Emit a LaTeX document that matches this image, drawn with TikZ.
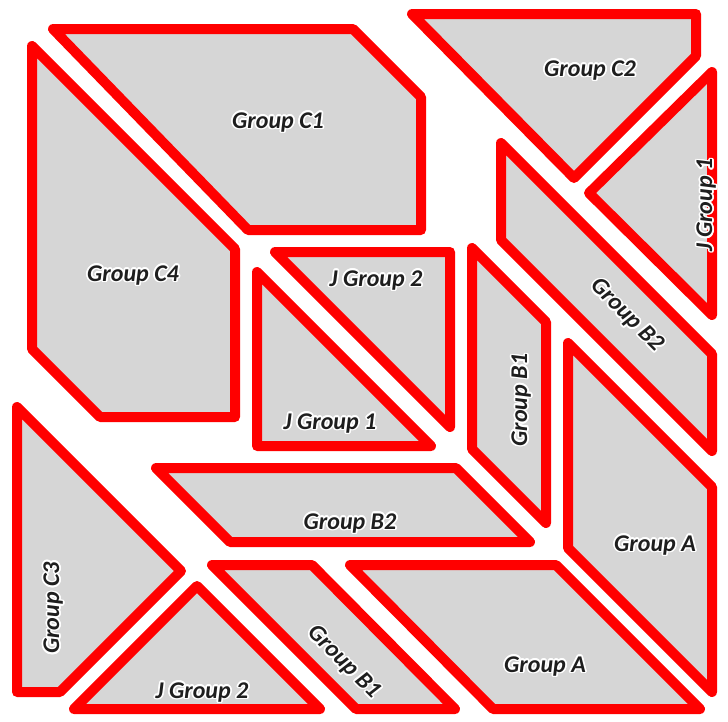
\documentclass[tikz,border=0pt]{standalone}
\usepackage{fontspec}
\usepackage{xcolor}
\usepackage{contour}
\newfontfamily\piecefont{Carlito}
\definecolor{pcred}{rgb}{1,0,0}
\definecolor{pcfill}{HTML}{D6D6D6}
\definecolor{pctext}{HTML}{1E1E1E}
\contourlength{1.6pt}
\usepackage{tikz}

\begin{document}
\begin{tikzpicture}[x=1pt, y=-1pt,
      piece/.style={draw=pcred, fill=pcfill, line width=10pt, line join=round},
      lbl/.style={font=\piecefont\bfseries\itshape\fontsize{24}{28}\selectfont,
                  text=pctext, inner sep=0pt}
  ]
    \useasboundingbox (0,0) rectangle (728,721);
    % top left
    \draw[piece] (53,29) -- (353,29) -- (421,97) -- (421,230) -- (248,230) -- cycle;
    \draw[piece] (32,46) -- (235,249) -- (235,417) -- (100,417) -- (32,349) -- cycle;
    % top right
    \draw[piece] (412,14) -- (696,14) -- (696,56) -- (574,178) -- cycle;
    \draw[piece] (712,72) -- (712,315) -- (589,193) -- cycle;
    \draw[piece] (501,143) -- (712,354) -- (712,451) -- (501,240) -- cycle;
    % centre
    \draw[piece] (275,252) -- (450,252) -- (450,427) -- cycle;
    \draw[piece] (257,272) -- (431,446) -- (257,446) -- cycle;
    \draw[piece] (472,248) -- (546,322) -- (546,523) -- (472,449) -- cycle;
    \draw[piece] (568,343) -- (712,487) -- (712,692) -- (568,548) -- cycle;
    \draw[piece] (156,468) -- (456,468) -- (530,542) -- (230,542) -- cycle;
    % bottom
    \draw[piece] (17,407) -- (181,571) -- (60,692) -- (17,692) -- cycle;
    \draw[piece] (197,586) -- (320,709) -- (74,709) -- cycle;
    \draw[piece] (212,565) -- (312,565) -- (455,709) -- (356,709) -- cycle;
    \draw[piece] (350,565) -- (556,565) -- (700,709) -- (493,709) -- cycle;

    % labels
    \node[lbl] (c1) at (278,123) {\contour{white}{Group C1}};
    \node[lbl] (c2) at (590,71) {\contour{white}{Group C2}};
    \node[lbl, rotate=90] (j1r) at (707,205) {\contour{white}{J Group 1}};
    \node[lbl, rotate=-45] (b2r) at (626,316) {\contour{white}{Group B2}};
    \node[lbl] (c4) at (133,276) {\contour{white}{Group C4}};
    \node[lbl] (j2m) at (376,281) {\contour{white}{J Group 2}};
    \node[lbl] (j1m) at (330,424) {\contour{white}{J Group 1}};
    \node[lbl, rotate=90] (b1m) at (522,400) {\contour{white}{Group B1}};
    \node[lbl] (b2m) at (350,524) {\contour{white}{Group B2}};
    \node[lbl] (ar) at (655,546) {\contour{white}{Group A}};
    \node[lbl, rotate=90] (c3) at (54,608) {\contour{white}{Group C3}};
    \node[lbl] (j2b) at (202,693) {\contour{white}{J Group 2}};
    \node[lbl, rotate=-45] (b1b) at (343,663) {\contour{white}{Group B1}};
    \node[lbl] (ab) at (545,667) {\contour{white}{Group A}};
  \end{tikzpicture}
\end{document}
